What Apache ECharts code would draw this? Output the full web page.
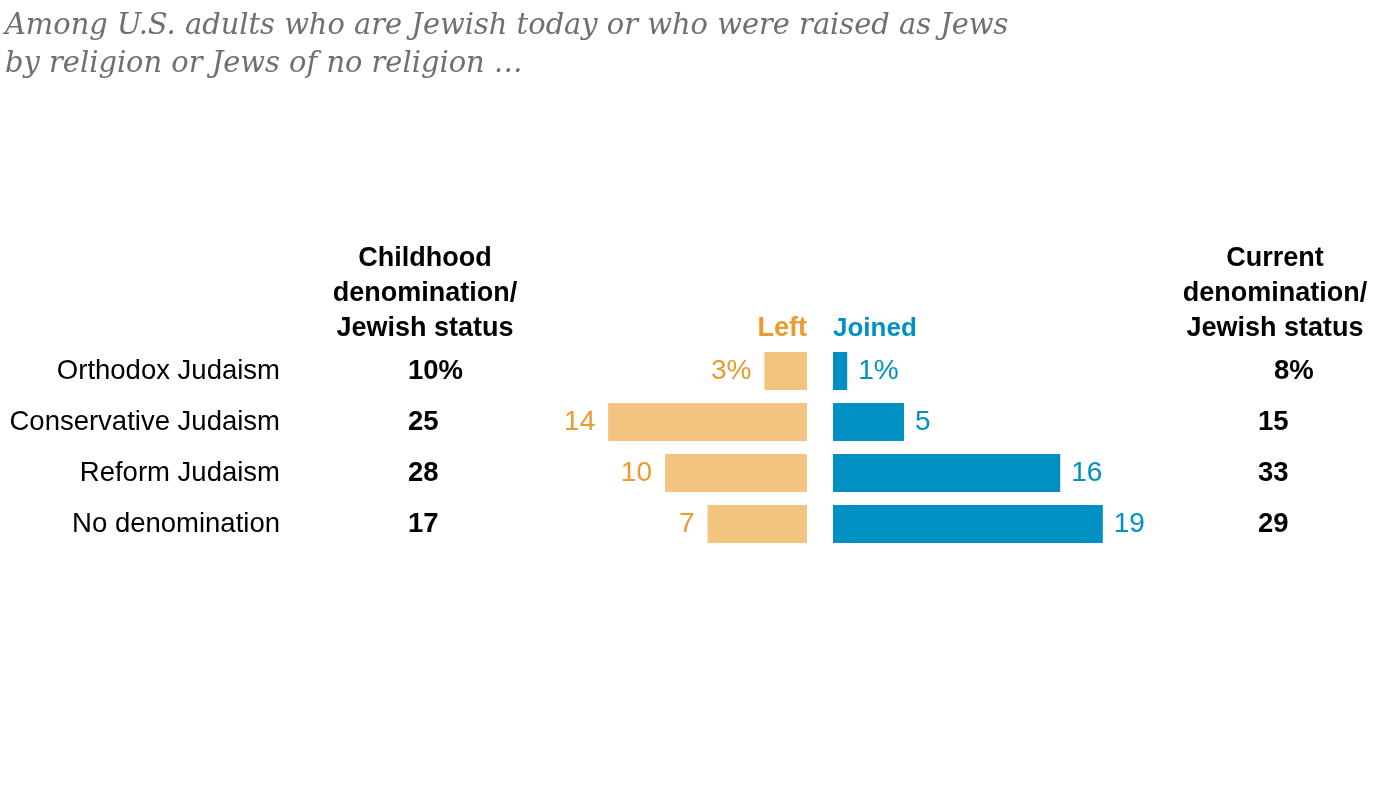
<!DOCTYPE html>
<html>
<head>
<meta charset="utf-8">
<script src="https://cdn.jsdelivr.net/npm/echarts@6/dist/echarts.min.js"></script>
<style>
html,body{margin:0;padding:0;background:#fff;}
#chart{width:1399px;height:789px;}
</style>
</head>
<body>
<div id="chart"></div>
<script>
var categories = ['Orthodox Judaism', 'Conservative Judaism', 'Reform Judaism', 'No denomination'];
var childhood = [10, 25, 28, 17];
var leftVals = [3, 14, 10, 7];
var joinedVals = [1, 5, 16, 19];
var current = [8, 15, 33, 29];

var ORANGE_BAR = '#F2C480';
var ORANGE_TXT = '#EA9A2E';
var BLUE = '#0091C2';
var FONT = 'Liberation Sans';

var chart = echarts.init(document.getElementById('chart'));

function pct(v, i) { return i === 0 ? v + '%' : String(v); }

var option = {
  backgroundColor: '#fff',
  animation: false,
  title: {
    text: 'Among U.S. adults who are Jewish today or who were raised as Jews\nby religion or Jews of no religion …',
    left: 0, top: 2,
    textStyle: { fontFamily: 'DejaVu Serif', fontStyle: 'italic', fontWeight: 'normal', fontSize: 28.9, lineHeight: 38, color: '#6f6f72' }
  },
  grid: [
    { left: 523, width: 284, top: 345.5, height: 204 },
    { left: 833, width: 284, top: 345.5, height: 204 }
  ],
  xAxis: [
    { gridIndex: 0, type: 'value', min: 0, max: 20, inverse: true, show: false },
    { gridIndex: 1, type: 'value', min: 0, max: 20, show: false }
  ],
  yAxis: [
    { gridIndex: 0, type: 'category', data: categories, inverse: true, position: 'left',
      axisLine: { show: false }, axisTick: { show: false }, splitLine: { show: false },
      axisLabel: { margin: 243, fontFamily: FONT, fontSize: 27.5, color: '#000' } },
    { gridIndex: 0, type: 'category', data: categories, inverse: true, position: 'left',
      axisLine: { show: false }, axisTick: { show: false }, splitLine: { show: false },
      axisLabel: { margin: 115, align: 'left', fontFamily: FONT, fontWeight: 'bold', fontSize: 27.5, color: '#000',
        formatter: function (v, i) { return pct(childhood[i], i); } } },
    { gridIndex: 1, type: 'category', data: categories, inverse: true, position: 'right',
      axisLine: { show: false }, axisTick: { show: false }, splitLine: { show: false },
      axisLabel: { margin: 141, align: 'left', fontFamily: FONT, fontWeight: 'bold', fontSize: 27.5, color: '#000',
        formatter: function (v, i) {
          var s = pct(current[i], i);
          return current[i] < 10 ? '{pad|}' + s : s;
        },
        rich: { pad: { width: 16 } } } }
  ],
  series: [
    { type: 'bar', xAxisIndex: 0, yAxisIndex: 0, data: leftVals, barWidth: 38,
      itemStyle: { color: ORANGE_BAR },
      label: { show: true, position: 'left', distance: 13, fontFamily: FONT, fontSize: 28, color: ORANGE_TXT,
        formatter: function (p) { return pct(p.value, p.dataIndex); } } },
    { type: 'bar', xAxisIndex: 1, yAxisIndex: 2, data: joinedVals, barWidth: 38,
      itemStyle: { color: BLUE },
      label: { show: true, position: 'right', distance: 11, fontFamily: FONT, fontSize: 28, color: BLUE,
        formatter: function (p) { return pct(p.value, p.dataIndex); } } }
  ],
  graphic: [
    { type: 'text', style: { text: 'Childhood\ndenomination/\nJewish status', x: 425, y: 294,
      align: 'center', verticalAlign: 'middle', lineHeight: 35, font: 'bold 27px "Liberation Sans"', fill: '#000' } },
    { type: 'text', style: { text: 'Current\ndenomination/\nJewish status', x: 1275, y: 294,
      align: 'center', verticalAlign: 'middle', lineHeight: 35, font: 'bold 27px "Liberation Sans"', fill: '#000' } },
    { type: 'text', style: { text: 'Left', x: 807, y: 329, align: 'right', verticalAlign: 'middle',
      font: 'bold 27px "Liberation Sans"', fill: ORANGE_TXT } },
    { type: 'text', style: { text: 'Joined', x: 833, y: 329, align: 'left', verticalAlign: 'middle',
      font: 'bold 26px "Liberation Sans"', fill: BLUE } }
  ]
};
chart.setOption(option);
</script>
</body>
</html>
